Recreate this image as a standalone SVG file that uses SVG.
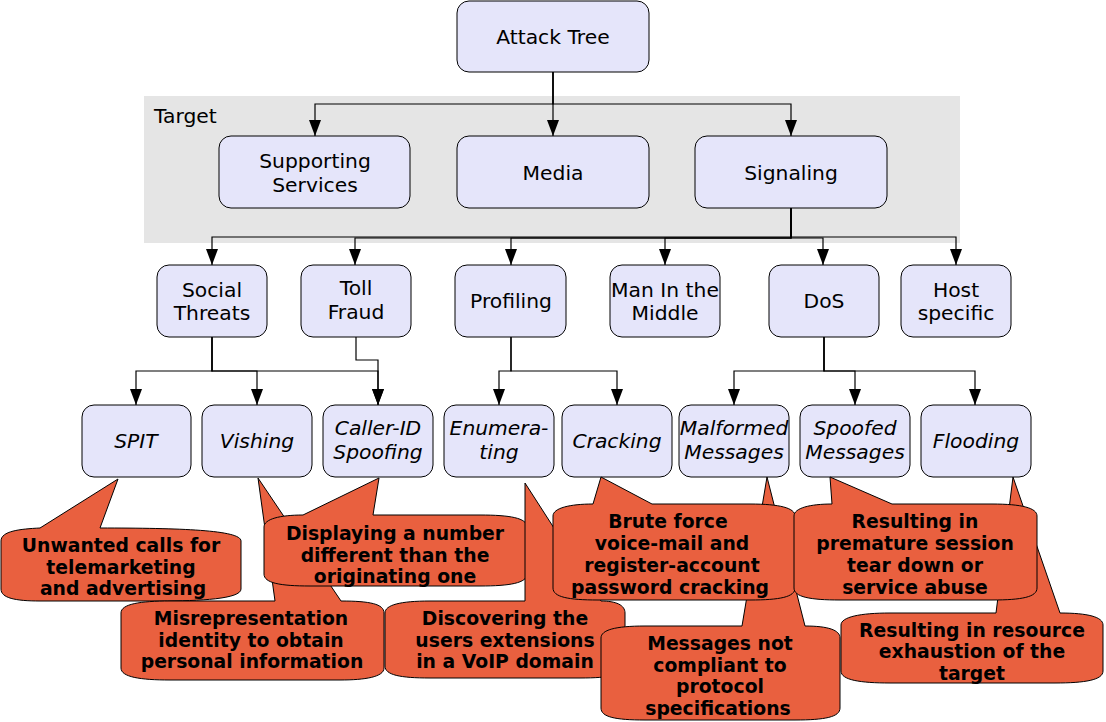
<svg xmlns="http://www.w3.org/2000/svg" width="1106" height="722" viewBox="0 0 1106 722">
<style>
.node rect{fill:#e5e5fa;stroke:#000;stroke-width:1}
.t{font-family:"DejaVu Sans","Liberation Sans",sans-serif;font-size:20.3px;fill:#000;text-anchor:middle}
.i{font-style:italic}
.c path{fill:#e9603f;stroke:#000;stroke-width:1}
.ct{font-family:"DejaVu Sans","Liberation Sans",sans-serif;font-size:18.8px;font-weight:bold;fill:#000;text-anchor:middle}
.e{fill:none;stroke:#000;stroke-width:1.2;marker-end:url(#ah)}
</style>
<defs>
<marker id="ah" markerUnits="userSpaceOnUse" markerWidth="16" markerHeight="12" refX="16" refY="6" orient="auto">
<path d="M0,0 L16,6 L0,12 Z" fill="#000"/>
</marker>
</defs>
<rect width="1106" height="722" fill="#fff"/>
<g id="target-area">
<rect x="144" y="96" width="816" height="147" fill="#e5e5e5"/>
<text x="154" y="123" class="t" style="text-anchor:start">Target</text>
</g>
<g id="connectors">
<path class="e" d="M553,72 V104 H315 V136"/>
<path class="e" d="M553,72 V136"/>
<path class="e" d="M553,72 V104 H791 V136"/>
<path class="e" d="M791,208 V237 H212 V265"/>
<path class="e" d="M791,208 V238 H355 V265"/>
<path class="e" d="M791,208 V238 H511 V265"/>
<path class="e" d="M791,208 V238 H665 V265"/>
<path class="e" d="M791,208 V238 H823 V265"/>
<path class="e" d="M791,208 V237 H956 V265"/>
<path class="e" d="M212,337 V371 H136 V405"/>
<path class="e" d="M212,337 V371 H257 V405"/>
<path class="e" d="M212,337 V371 H378 V405"/>
<path class="e" d="M356,337 V360 H378 V405"/>
<path class="e" d="M511,337 V371 H499 V405"/>
<path class="e" d="M511,337 V371 H617 V405"/>
<path class="e" d="M824,337 V371 H734 V405"/>
<path class="e" d="M824,337 V371 H855 V405"/>
<path class="e" d="M824,337 V371 H975 V405"/>
</g>
<g id="n-attack-tree" class="node"><rect x="457" y="1" width="192" height="71" rx="12"/><text class="t" x="553" y="44">Attack Tree</text></g>
<g id="n-supporting" class="node"><rect x="219" y="136" width="191" height="72" rx="12"/><text class="t" x="315" y="168">Supporting</text><text class="t" x="315" y="192">Services</text></g>
<g id="n-media" class="node"><rect x="457" y="136" width="192" height="72" rx="12"/><text class="t" x="553" y="180">Media</text></g>
<g id="n-signaling" class="node"><rect x="695" y="136" width="192" height="72" rx="12"/><text class="t" x="791" y="180">Signaling</text></g>
<g id="n-social" class="node"><rect x="157" y="265" width="110" height="72" rx="12"/><text class="t" x="212" y="297">Social</text><text class="t" x="212" y="320">Threats</text></g>
<g id="n-toll" class="node"><rect x="301" y="265" width="110" height="72" rx="12"/><text class="t" x="356" y="295">Toll</text><text class="t" x="356" y="319">Fraud</text></g>
<g id="n-profiling" class="node"><rect x="455" y="265" width="111" height="72" rx="12"/><text class="t" x="511" y="308">Profiling</text></g>
<g id="n-mitm" class="node"><rect x="610" y="265" width="110" height="72" rx="12"/><text class="t" x="665" y="297">Man In the</text><text class="t" x="665" y="320">Middle</text></g>
<g id="n-dos" class="node"><rect x="769" y="265" width="110" height="72" rx="12"/><text class="t" x="824" y="308">DoS</text></g>
<g id="n-host" class="node"><rect x="901" y="265" width="110" height="72" rx="12"/><text class="t" x="956" y="297">Host</text><text class="t" x="956" y="320">specific</text></g>
<g id="n-spit" class="node"><rect x="82" y="405" width="109" height="72" rx="12"/><text class="t i" x="136" y="448">SPIT</text></g>
<g id="n-vishing" class="node"><rect x="202" y="405" width="110" height="72" rx="12"/><text class="t i" x="257" y="448">Vishing</text></g>
<g id="n-callerid" class="node"><rect x="323" y="405" width="110" height="72" rx="12"/><text class="t i" x="378" y="435">Caller-ID</text><text class="t i" x="378" y="459">Spoofing</text></g>
<g id="n-enumerating" class="node"><rect x="444" y="405" width="110" height="72" rx="12"/><text class="t i" x="499" y="435">Enumera-</text><text class="t i" x="499" y="459">ting</text></g>
<g id="n-cracking" class="node"><rect x="562" y="405" width="110" height="72" rx="12"/><text class="t i" x="617" y="448">Cracking</text></g>
<g id="n-malformed" class="node"><rect x="679" y="405" width="110" height="72" rx="12"/><text class="t i" x="734" y="435">Malformed</text><text class="t i" x="734" y="459">Messages</text></g>
<g id="n-spoofed" class="node"><rect x="800" y="405" width="110" height="72" rx="12"/><text class="t i" x="855" y="435">Spoofed</text><text class="t i" x="855" y="459">Messages</text></g>
<g id="n-flooding" class="node"><rect x="921" y="405" width="110" height="72" rx="12"/><text class="t i" x="976" y="448">Flooding</text></g>
<g id="c-unwanted" class="c">
<path d="M1,541 C1,531 20,529 40,528 L40,528 L118,479 L100,528 C180,528 241,530 241,541 L241,589 C241,599 200,601 160,601 L40,601 C15,601 1,598 1,589 Z"/>
<text class="ct" x="121" y="552">Unwanted calls for</text><text class="ct" x="121" y="574">telemarketing</text><text class="ct" x="123" y="595">and advertising</text>
</g>
<g id="c-misrep" class="c">
<path d="M121,613 C121,604 140,601 170,601 L275,601 L258,478 L341,601 C370,601 384,604 384,613 L384,668 C384,677 365,680 340,680 L170,680 C140,680 121,677 121,668 Z"/>
<text class="ct" x="251" y="625">Misrepresentation</text><text class="ct" x="251" y="647">identity to obtain</text><text class="ct" x="252" y="668">personal information</text>
</g>
<g id="c-displaying" class="c">
<path d="M264,527 C264,519 280,515 303,515 L379,478 L373,515 L480,515 C510,515 527,518 527,527 L527,574 C527,583 510,586 480,586 L310,586 C280,586 264,583 264,574 Z"/>
<text class="ct" x="395" y="540">Displaying a number</text><text class="ct" x="395" y="562">different than the</text><text class="ct" x="395" y="583">originating one</text>
</g>
<g id="c-discovering" class="c">
<path d="M385,613 C385,605 400,601 430,601 L525,601 L525,483 L601,601 C616,601 625,605 625,613 L625,666 C625,675 610,678 580,678 L430,678 C400,678 385,675 385,666 Z"/>
<text class="ct" x="505" y="625">Discovering the</text><text class="ct" x="505" y="647">users extensions</text><text class="ct" x="505" y="668">in a VoIP domain</text>
</g>
<g id="c-messages" class="c">
<path d="M601,638 C601,630 615,626 645,626 L742,626 L767,477 L805,626 C828,626 840,630 840,638 L840,708 C840,717 825,720 795,720 L645,720 C615,720 601,717 601,708 Z"/>
<text class="ct" x="720" y="650">Messages not</text><text class="ct" x="720" y="672">compliant to</text><text class="ct" x="720" y="693">protocol</text><text class="ct" x="718" y="715">specifications</text>
</g>
<g id="c-brute" class="c">
<path d="M553,516 C553,508 570,504 593,504 L601,477 L652,504 L750,504 C780,504 795,508 795,516 L795,588 C795,597 780,600 750,600 L598,600 C568,600 553,597 553,588 Z"/>
<text class="ct" x="668" y="528">Brute force</text><text class="ct" x="672" y="550">voice-mail and</text><text class="ct" x="672" y="572">register-account</text><text class="ct" x="670" y="594">password cracking</text>
</g>
<g id="c-resource" class="c">
<path d="M841,625 C841,617 860,613 890,613 L996,613 L1013,477 L1060,613 C1088,613 1103,617 1103,625 L1103,671 C1103,680 1085,683 1055,683 L890,683 C860,683 841,680 841,671 Z"/>
<text class="ct" x="972" y="637">Resulting in resource</text><text class="ct" x="972" y="658">exhaustion of the</text><text class="ct" x="972" y="680">target</text>
</g>
<g id="c-premature" class="c">
<path d="M794,516 C794,508 810,504 832,504 L830,477 L892,504 L992,504 C1022,504 1037,508 1037,516 L1037,588 C1037,597 1022,600 992,600 L840,600 C810,600 794,597 794,588 Z"/>
<text class="ct" x="915" y="528">Resulting in</text><text class="ct" x="915" y="550">premature session</text><text class="ct" x="915" y="572">tear down or</text><text class="ct" x="915" y="594">service abuse</text>
</g>
</svg>
